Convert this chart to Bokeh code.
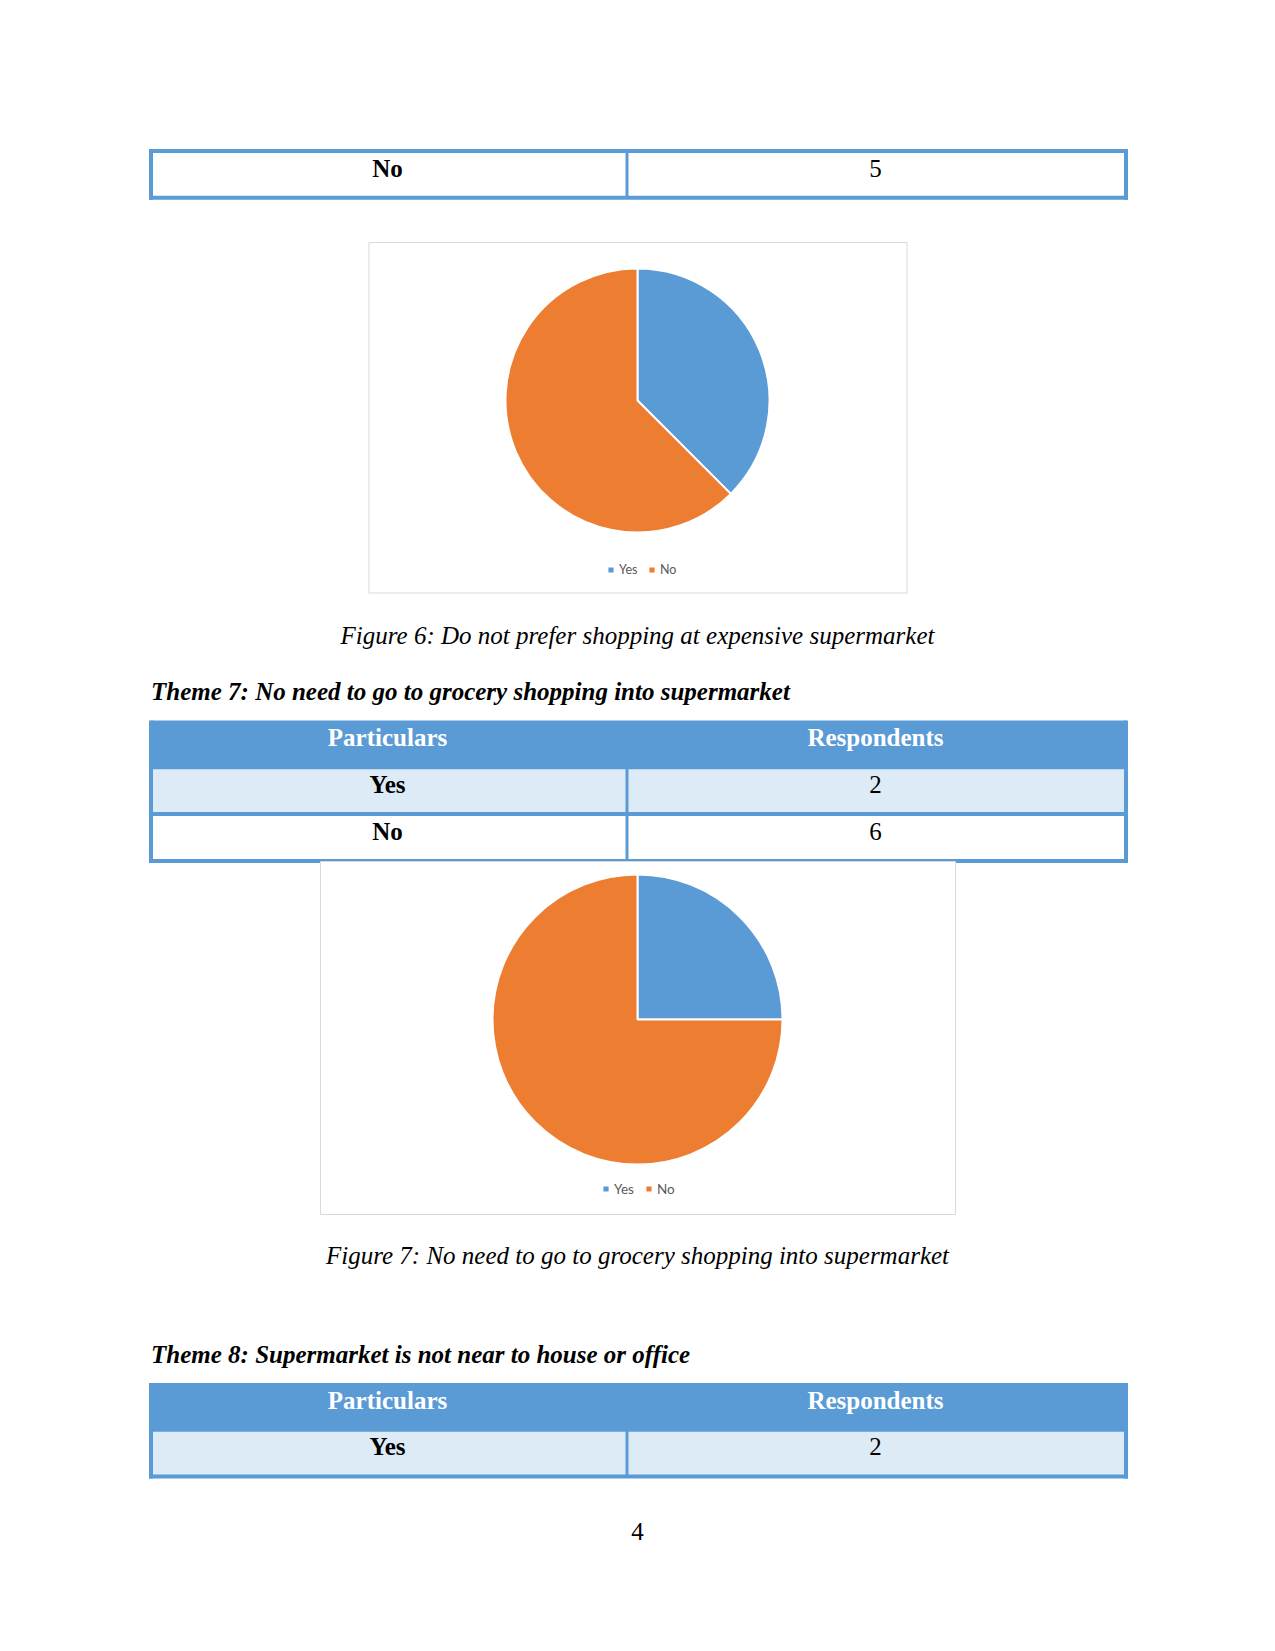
import numpy as np
from bokeh.plotting import figure
from bokeh.models import ColumnDataSource, Legend, LegendItem, Range1d
from bokeh.core.properties import value
from bokeh.embed import file_html
from bokeh.resources import INLINE

# ---------------- data ----------------
table_header = ["Particulars", "Respondents"]

theme6_particulars = ["No"]
theme6_respondents = [5]

fig6_labels = ["Yes", "No"]
fig6_values = [3, 5]
fig6_caption = "Figure 6: Do not prefer shopping at expensive supermarket"

theme7_title = "Theme 7: No need to go to grocery shopping into supermarket"
theme7_particulars = ["Yes", "No"]
theme7_respondents = [2, 6]

fig7_labels = ["Yes", "No"]
fig7_values = [2, 6]
fig7_caption = "Figure 7: No need to go to grocery shopping into supermarket"

theme8_title = "Theme 8: Supermarket is not near to house or office"
theme8_particulars = ["Yes"]
theme8_respondents = [2]

page_number = "4"

slice_colors = ["#5B9BD5", "#ED7D31"]

# ---------------- page ----------------
W, H = 1275, 1651
BLUE = "#5B9BD5"
LIGHT = "#DDEBF7"
SERIF = value("Liberation Serif")

p = figure(width=W, height=H, x_range=Range1d(0, W), y_range=Range1d(0, H),
           output_backend="svg", toolbar_location=None, min_border=0,
           x_axis_location=None, y_axis_location=None)
p.grid.visible = False
p.outline_line_color = None
p.background_fill_color = "white"
p.border_fill_color = "white"


def Y(y):
    return H - y


def txt(x, y, s, size=25, style="normal", color="black", align="center"):
    p.text(x=[x], y=[Y(y)], text=[s], text_font=SERIF,
           text_font_size=f"{size}px", text_font_style=style,
           text_color=color, text_align=align, text_baseline="alphabetic")


TL, TM, TR = 150.5, 626.5, 1125.5
C1, C2 = 387, 875
ROW_H = 46.8
BASE = 17
BW = 4


def table(top, rows, vals, header=None, first_light=True):
    y = top
    if header is not None:
        p.quad(left=[TL], right=[TR], top=[Y(y)], bottom=[Y(y + ROW_H)],
               fill_color=BLUE, line_color=None)
        txt(C1, y + BASE, header[0], style="bold", color="white")
        txt(C2, y + BASE, header[1], style="bold", color="white")
        y += ROW_H
        v_top = Y(top)
    else:
        v_top = Y(top) + BW / 2
    body_top = y
    hy = []
    for i, (r, v) in enumerate(zip(rows, vals)):
        fill = LIGHT if (first_light and i % 2 == 0) else "white"
        p.quad(left=[TL], right=[TR], top=[Y(y)], bottom=[Y(y + ROW_H)],
               fill_color=fill, line_color=None)
        txt(C1, y + BASE, r, style="bold")
        txt(C2, y + BASE, str(v))
        hy.append(y)
        y += ROW_H
    hy.append(y)
    body_bot = y
    # borders
    p.segment(x0=[TL - BW / 2] * len(hy), x1=[TR + BW / 2] * len(hy),
              y0=[Y(v) for v in hy], y1=[Y(v) for v in hy],
              line_color=BLUE, line_width=BW)
    p.segment(x0=[TL, TR], x1=[TL, TR], y0=[v_top, v_top],
              y1=[Y(body_bot) - BW / 2, Y(body_bot) - BW / 2],
              line_color=BLUE, line_width=BW)
    p.segment(x0=[TM], x1=[TM], y0=[Y(body_top)], y1=[Y(body_bot)],
              line_color=BLUE, line_width=3)


def pie(box, cx, cy, r, labels, values, leg_x, leg_y, spacing, fsize):
    p.quad(left=[box[0]], right=[box[1]], top=[Y(box[2])], bottom=[Y(box[3])],
           fill_color="white", line_color="#D9D9D9", line_width=1)
    vals = np.array(values, dtype=float)
    frac = vals / vals.sum()
    cum = np.concatenate([[0.0], np.cumsum(frac)])
    start = np.pi / 2 - cum[:-1] * 2 * np.pi
    end = np.pi / 2 - cum[1:] * 2 * np.pi
    n = len(values)
    src = ColumnDataSource(dict(x=[cx] * n, y=[Y(cy)] * n, start=start, end=end,
                                color=slice_colors[:n], label=labels))
    rr = p.wedge(x="x", y="y", radius=r, start_angle="start", end_angle="end",
                 direction="clock", fill_color="color", line_color="white",
                 line_width=2, source=src)
    leg = Legend(items=[LegendItem(label=l, renderers=[rr], index=i)
                        for i, l in enumerate(labels)],
                 location=(leg_x, Y(leg_y) - 7), orientation="horizontal",
                 glyph_width=9, glyph_height=9, label_height=14,
                 label_standoff=4, spacing=spacing, padding=0, margin=0,
                 border_line_color=None, background_fill_alpha=0,
                 label_text_font="Lato", label_text_font_size=fsize,
                 label_text_color="#595959")
    p.add_layout(leg)


# Theme 6 table continuation
table(150.5, theme6_particulars, theme6_respondents, header=None, first_light=False)

# Figure 6
pie((368.5, 906.5, 242, 592.5), 637, 400, 132, fig6_labels, fig6_values,
    606, 569.6, 8, "12.5px")
txt(637, 634.5, fig6_caption, style="italic")

# Theme 7
txt(150.5, 690.5, theme7_title, style="bold italic", align="left")
table(720, theme7_particulars, theme7_respondents, header=table_header)

# Figure 7
pie((320, 955, 861, 1214), 637, 1019, 145, fig7_labels, fig7_values,
    601, 1189.5, 10, "13.5px")
txt(637, 1254.5, fig7_caption, style="italic")

# Theme 8
txt(150.5, 1353.5, theme8_title, style="bold italic", align="left")
table(1382.5, theme8_particulars, theme8_respondents, header=table_header)

# page number
txt(637, 1530.5, page_number)

open("out.html", "w").write(file_html(p, INLINE))
